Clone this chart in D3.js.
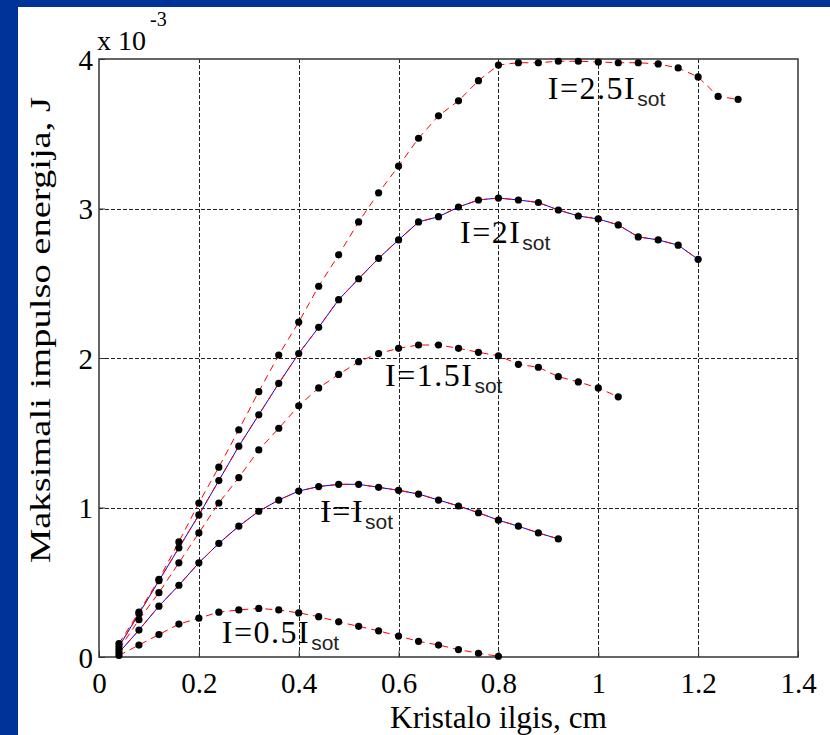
<!DOCTYPE html>
<html lang="en">
<head>
<meta charset="UTF-8">
<title>Maksimali impulso energija</title>
<script src="https://d3js.org/d3.v7.min.js"></script>
<style>
    body { margin: 0; background: #003399; }
    svg { display: block; }
    text { font-family: "Liberation Serif", "Times New Roman", serif; fill: #000; }
    .grid line { stroke: #222; stroke-width: 1; stroke-dasharray: 3.5, 2.5; shape-rendering: crispEdges; }
    .axis path { display: none; }
    .axis line { stroke: #333; }
    .axis text { font-size: 29px; font-family: "Liberation Serif", serif; }
    .sub { font-family: "Liberation Sans", Arial, sans-serif; font-size: 21px; fill: #222; }
</style>
</head>
<body>
<svg width="830" height="735"></svg>
<script>
    // x positions: crystal length, cm (every 0.04)
    var step = 0.04;
    var xTicks = [0, 0.2, 0.4, 0.6, 0.8, 1, 1.2, 1.4];
    var yTicks = [0, 1, 2, 3, 4];

    // pulse energy, x10^-3 J
    var e05 = [0.01, 0.08, 0.15, 0.22, 0.26, 0.30, 0.315, 0.325, 0.315, 0.295, 0.27, 0.235, 0.205, 0.175, 0.14, 0.105, 0.08, 0.05, 0.025, 0.005];
    var e10 = [0.03, 0.18, 0.34, 0.48, 0.63, 0.76, 0.875, 0.975, 1.05, 1.11, 1.14, 1.155, 1.155, 1.135, 1.115, 1.09, 1.05, 1.01, 0.965, 0.915, 0.875, 0.83, 0.79];
    var e15 = [0.05, 0.25, 0.43, 0.63, 0.83, 1.03, 1.20, 1.385, 1.53, 1.68, 1.80, 1.89, 1.975, 2.03, 2.065, 2.087, 2.087, 2.065, 2.038, 2.015, 1.958, 1.938, 1.875, 1.84, 1.80, 1.74];
    var e20 = [0.07, 0.29, 0.51, 0.73, 0.95, 1.18, 1.41, 1.62, 1.83, 2.03, 2.205, 2.39, 2.53, 2.667, 2.79, 2.91, 2.945, 3.01, 3.057, 3.07, 3.057, 3.04, 2.99, 2.95, 2.93, 2.89, 2.81, 2.79, 2.755, 2.66];
    var e25 = [0.09, 0.30, 0.52, 0.77, 1.03, 1.27, 1.52, 1.775, 2.02, 2.24, 2.48, 2.69, 2.91, 3.105, 3.284, 3.47, 3.62, 3.72, 3.855, 3.96, 3.975, 3.975, 3.985, 3.985, 3.98, 3.975, 3.975, 3.967, 3.94, 3.88, 3.75, 3.73];

    var seriesList = [e05, e10, e15, e20, e25];
    var withBlue = [e10, e20];

    var labelMain = ["I=0.5I", "I=I", "I=1.5I", "I=2I", "I=2.5I"];
    var labelX = [0.246, 0.443, 0.573, 0.723, 0.899];
    var labelY = [0.094, 0.90, 1.81, 2.77, 3.73];

    var svg = d3.select("svg");

    svg.append("rect").attr("x", 18).attr("y", 7).attr("width", 812).attr("height", 728).attr("fill", "#fff");

    var xScale = d3.scaleLinear().domain([0, 1.4]).range([99, 798]);
    var yScale = d3.scaleLinear().domain([0, 4]).range([657, 59]);

    function pts(arr) {
        return arr.map(function (v, i) { return [(i + 1) * step, v]; });
    }

    // grid
    var grid = svg.append("g").attr("class", "grid");
    grid.selectAll("line.v").data(xTicks.slice(1, -1)).enter().append("line")
        .attr("x1", function (d) { return Math.round(xScale(d)) + 0.5 })
        .attr("x2", function (d) { return Math.round(xScale(d)) + 0.5 })
        .attr("y1", yScale(4)).attr("y2", yScale(0));
    grid.selectAll("line.h").data(yTicks.slice(1, -1)).enter().append("line")
        .attr("x1", xScale(0)).attr("x2", xScale(1.4))
        .attr("y1", function (d) { return Math.round(yScale(d)) + 0.5 })
        .attr("y2", function (d) { return Math.round(yScale(d)) + 0.5 });

    // axes
    var xAxis = d3.axisBottom(xScale).tickValues(xTicks).tickSize(-6).tickFormat(d3.format("~g"));
    var gx = svg.append("g").attr("class", "axis").attr("transform", "translate(0," + yScale(0) + ")").call(xAxis);
    gx.selectAll("text").attr("y", 36).attr("dy", 0);

    var yAxis = d3.axisLeft(yScale).tickValues(yTicks).tickSize(-6).tickFormat(d3.format("~g"));
    var gy = svg.append("g").attr("class", "axis").attr("transform", "translate(" + xScale(0) + ",0)").call(yAxis);
    gy.selectAll("text").attr("x", -6).attr("dy", "0.35em");

    svg.append("rect")
        .attr("x", xScale(0)).attr("y", yScale(4))
        .attr("width", xScale(1.4) - xScale(0)).attr("height", yScale(0) - yScale(4))
        .attr("fill", "none").attr("stroke", "#333").attr("stroke-width", 1.5);

    // lines
    var line = d3.line()
        .x(function (d) { return xScale(d[0]) })
        .y(function (d) { return yScale(d[1]) });

    svg.selectAll("path.blue").data(withBlue).enter().append("path")
        .attr("class", "blue")
        .attr("d", function (d) { return line(pts(d)) })
        .attr("fill", "none").attr("stroke", "#0000ff").attr("stroke-width", 1);

    svg.selectAll("path.red").data(seriesList).enter().append("path")
        .attr("class", "red")
        .attr("d", function (d) { return line(pts(d)) })
        .attr("fill", "none").attr("stroke", "#ff0000").attr("stroke-width", 1)
        .attr("stroke-dasharray", "7,5");

    // dots
    seriesList.forEach(function (s) {
        svg.append("g").selectAll("circle").data(pts(s)).enter().append("circle")
            .attr("cx", function (d) { return xScale(d[0]) })
            .attr("cy", function (d) { return yScale(d[1]) })
            .attr("r", 3.6).attr("fill", "#000");
    });

    // curve labels: widen the main part a little like the original
    labelMain.forEach(function (t, i) {
        var x0 = xScale(labelX[i]), y0 = yScale(labelY[i]);
        var main = svg.append("text")
            .attr("x", x0).attr("y", y0)
            .style("font-size", "32px").style("letter-spacing", "1.5px")
            .text(t);
        var w = main.node().getComputedTextLength();
        svg.append("text").attr("class", "sub")
            .attr("x", x0 + w + 1).attr("y", y0 + 7)
            .text("sot");
    });

    // exponent
    svg.append("text").attr("x", 97).attr("y", 50).style("font-size", "28px").text("x 10");
    svg.append("text").attr("x", 150).attr("y", 26).style("font-size", "20px").text("-3");

    // axis labels
    svg.append("text").attr("x", 390).attr("y", 728)
        .attr("textLength", 217).attr("lengthAdjust", "spacingAndGlyphs")
        .style("font-size", "31px").text("Kristalo ilgis, cm");

    svg.append("text")
        .attr("transform", "translate(50,563) rotate(-90)")
        .attr("textLength", 466).attr("lengthAdjust", "spacingAndGlyphs")
        .style("font-size", "30px").text("Maksimali impulso energija, J");
</script>
</body>
</html>
